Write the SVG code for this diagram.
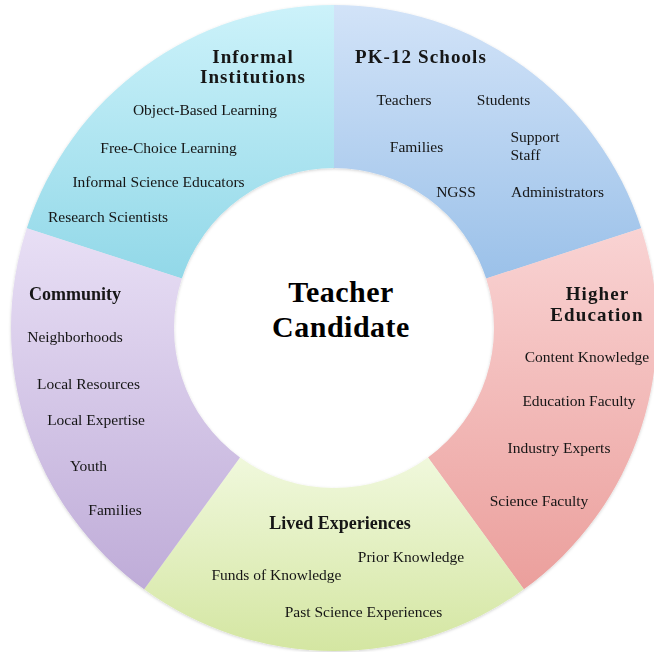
<svg xmlns="http://www.w3.org/2000/svg" width="654" height="652" viewBox="0 0 654 652">
  <defs>
    <linearGradient id="g-informal" x1="0" y1="0" x2="0" y2="1">
      <stop offset="0" stop-color="#ccf2fa"/>
      <stop offset="1" stop-color="#92d8e8"/>
    </linearGradient>
    <linearGradient id="g-pk12" x1="0" y1="0" x2="0" y2="1">
      <stop offset="0" stop-color="#d2e3f8"/>
      <stop offset="1" stop-color="#9bc1e9"/>
    </linearGradient>
    <linearGradient id="g-higher" x1="0" y1="0" x2="0" y2="1">
      <stop offset="0" stop-color="#f9d3d3"/>
      <stop offset="1" stop-color="#eb9f9c"/>
    </linearGradient>
    <linearGradient id="g-lived" x1="0" y1="0" x2="0" y2="1">
      <stop offset="0" stop-color="#f0f8dc"/>
      <stop offset="1" stop-color="#d4e6a2"/>
    </linearGradient>
    <linearGradient id="g-community" x1="0" y1="0" x2="0" y2="1">
      <stop offset="0" stop-color="#e8dff5"/>
      <stop offset="1" stop-color="#bfacd8"/>
    </linearGradient>
    <filter id="soft" x="-5%" y="-5%" width="110%" height="110%">
      <feDropShadow dx="0" dy="1" stdDeviation="1.5" flood-color="#000" flood-opacity="0.18"/>
    </filter>
  </defs>
  <style>
    text { font-family: "Liberation Serif", "Times New Roman", serif; fill: #151515; }
    .item { font-size: 15.5px; text-anchor: middle; }
    .item.left { text-anchor: start; }
    .title { font-size: 19px; font-weight: bold; letter-spacing: 1.1px; text-anchor: middle; }
    .title-plain { font-size: 18px; font-weight: bold; text-anchor: middle; }
    .center { font-size: 30px; font-weight: bold; letter-spacing: 0.5px; text-anchor: middle; fill: #000; }
  </style>

  <rect width="654" height="652" fill="#ffffff"/>

  <!-- ring of five sectors around (334,328), outer r=323, inner r=160 -->
  <g id="ring" filter="url(#soft)">
    <g id="informal-institutions">
      <path d="M 26.81,228.19 A 323 323 0 0 1 334,5 L 334,168 A 160 160 0 0 0 181.83,278.56 Z" fill="url(#g-informal)"/>
      <text class="title" x="253" y="63">Informal</text>
      <text class="title" x="253" y="83">Institutions</text>
      <text class="item" x="205" y="115">Object-Based Learning</text>
      <text class="item" x="168.5" y="152.5">Free-Choice Learning</text>
      <text class="item" x="158.5" y="186.5">Informal Science Educators</text>
      <text class="item" x="108" y="221.5">Research Scientists</text>
    </g>

    <g id="pk12-schools">
      <path d="M 334,5 A 323 323 0 0 1 641.19,228.19 L 486.17,278.56 A 160 160 0 0 0 334,168 Z" fill="url(#g-pk12)"/>
      <text class="title" x="421" y="63">PK-12 Schools</text>
      <text class="item" x="404" y="105">Teachers</text>
      <text class="item" x="503.5" y="105">Students</text>
      <text class="item" x="416.5" y="151.5">Families</text>
      <text class="item left" x="510.5" y="141.5">Support</text>
      <text class="item left" x="510.5" y="160">Staff</text>
      <text class="item" x="456" y="196.5">NGSS</text>
      <text class="item" x="557.5" y="196.5">Administrators</text>
    </g>

    <g id="higher-education">
      <path d="M 641.19,228.19 A 323 323 0 0 1 523.85,589.31 L 428.05,457.44 A 160 160 0 0 0 486.17,278.56 Z" fill="url(#g-higher)"/>
      <text class="title" x="597.5" y="300">Higher</text>
      <text class="title" x="597" y="320.5">Education</text>
      <text class="item" x="587" y="361.5">Content Knowledge</text>
      <text class="item" x="579" y="406">Education Faculty</text>
      <text class="item" x="559" y="452.5">Industry Experts</text>
      <text class="item" x="539" y="506">Science Faculty</text>
    </g>

    <g id="lived-experiences">
      <path d="M 523.85,589.31 A 323 323 0 0 1 144.15,589.31 L 239.95,457.44 A 160 160 0 0 0 428.05,457.44 Z" fill="url(#g-lived)"/>
      <text class="title-plain" x="340" y="528.5">Lived Experiences</text>
      <text class="item" x="411" y="561.5">Prior Knowledge</text>
      <text class="item" x="276.5" y="579.5">Funds of Knowledge</text>
      <text class="item" x="363.5" y="616.5">Past Science Experiences</text>
    </g>

    <g id="community">
      <path d="M 144.15,589.31 A 323 323 0 0 1 26.81,228.19 L 181.83,278.56 A 160 160 0 0 0 239.95,457.44 Z" fill="url(#g-community)"/>
      <text class="title-plain" x="75" y="299.5">Community</text>
      <text class="item" x="75" y="341.5">Neighborhoods</text>
      <text class="item" x="88.5" y="388.5">Local Resources</text>
      <text class="item" x="96" y="425">Local Expertise</text>
      <text class="item" x="88.5" y="470.5">Youth</text>
      <text class="item" x="115" y="515">Families</text>
    </g>
  </g>

  <g id="teacher-candidate">
    <text class="center" x="341" y="301.5">Teacher</text>
    <text class="center" x="341" y="336.5">Candidate</text>
  </g>
</svg>
